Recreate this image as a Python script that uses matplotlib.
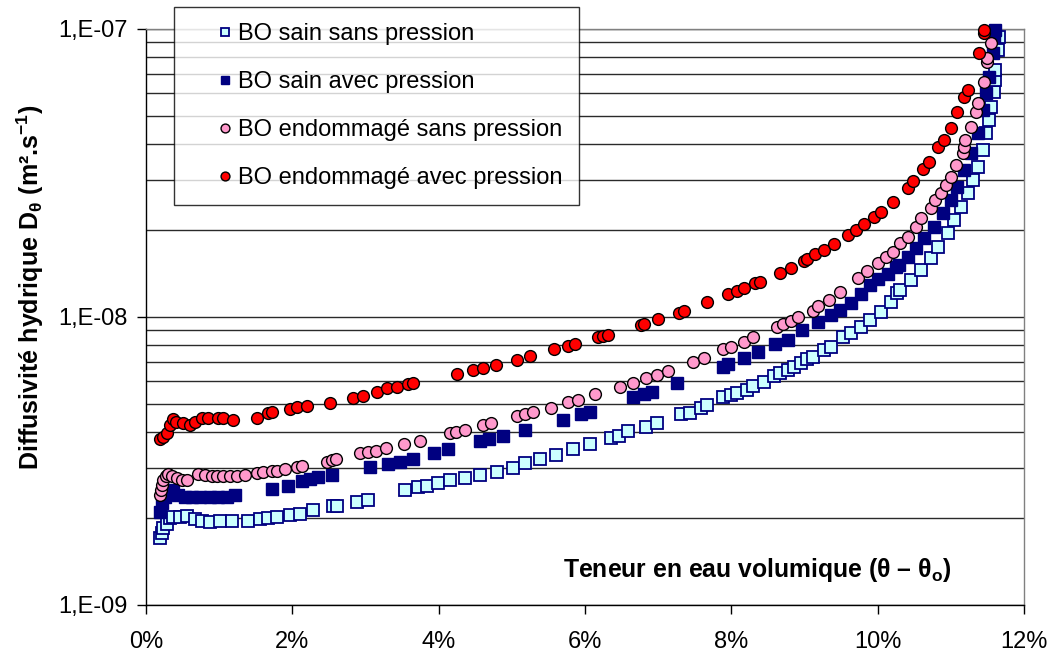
import numpy as np
import matplotlib
matplotlib.use('Agg')
import matplotlib.pyplot as plt
from matplotlib.ticker import FixedLocator, FixedFormatter, NullLocator

# données : teneur en eau (%) et diffusivité (x1e-9 m2/s)
sain_sans_x = [0.19, 0.22, 0.23, 0.29, 0.33, 0.37, 0.47, 0.56, 0.67, 0.77, 0.88, 1.01, 1.18, 1.40, 1.56,
               1.67, 1.79, 1.97, 2.11, 2.28, 2.56, 2.61, 2.89, 3.04, 3.54, 3.72, 3.84, 3.99, 4.16, 4.36,
               4.57, 4.80, 5.01, 5.18, 5.39, 5.60, 5.83, 6.07, 6.35, 6.46, 6.59, 6.83, 6.99, 7.31, 7.44,
               7.58, 7.67, 7.89, 7.99, 8.08, 8.22, 8.30, 8.44, 8.58, 8.67, 8.77, 8.85, 8.95, 9.04, 9.12,
               9.26, 9.36, 9.53, 9.63, 9.77, 9.90, 10.04, 10.18, 10.27, 10.31, 10.45, 10.59, 10.73, 10.83,
               10.96, 11.04, 11.14, 11.23, 11.30, 11.37, 11.44, 11.48, 11.52, 11.55, 11.59, 11.60, 11.61,
               11.64, 11.66]
sain_sans_d = [1.71, 1.78, 1.85, 1.91, 2.00, 2.02, 2.02, 2.04, 1.99, 1.96, 1.94, 1.96, 1.96, 1.96, 1.99,
               2.00, 2.02, 2.05, 2.07, 2.14, 2.21, 2.21, 2.28, 2.32, 2.51, 2.57, 2.59, 2.65, 2.72, 2.76,
               2.83, 2.90, 2.99, 3.11, 3.21, 3.32, 3.48, 3.62, 3.80, 3.86, 4.02, 4.15, 4.28, 4.60, 4.64,
               4.83, 4.95, 5.28, 5.36, 5.45, 5.58, 5.76, 5.95, 6.24, 6.39, 6.55, 6.70, 6.92, 7.15, 7.26,
               7.68, 7.87, 8.52, 8.80, 9.23, 9.77, 10.4, 11.3, 12.1, 12.4, 13.4, 14.6, 16.0, 17.5,
               19.6, 21.7, 24.1, 27.0, 29.9, 33.2, 38.0, 43.5, 48.3, 53.6, 60.4, 66.5, 72.1,
               84.5, 93.8]

sain_avec_x = [0.19, 0.22, 0.26, 0.30, 0.37, 0.44, 0.53, 0.63, 0.74, 0.88, 0.98, 1.11, 1.22, 1.72, 1.94,
               2.13, 2.24, 2.35, 2.54, 3.06, 3.31, 3.47, 3.65, 3.93, 4.13, 4.57, 4.69, 4.88, 5.18, 5.70,
               5.94, 6.07, 6.66, 6.80, 6.92, 7.26, 7.88, 7.95, 8.17, 8.36, 8.60, 8.77, 8.97, 9.19, 9.36,
               9.49, 9.63, 9.77, 9.90, 10.01, 10.14, 10.25, 10.29, 10.41, 10.52, 10.63, 10.77, 10.89,
               11.00, 11.09, 11.18, 11.27, 11.37, 11.44, 11.48, 11.52, 11.57, 11.59, 11.60]
sain_avec_d = [2.10, 2.26, 2.37, 2.47, 2.51, 2.41, 2.37, 2.37, 2.37, 2.37, 2.37, 2.37, 2.41, 2.53, 2.59,
               2.70, 2.74, 2.78, 2.83, 3.01, 3.09, 3.14, 3.21, 3.37, 3.48, 3.71, 3.77, 3.86, 4.05, 4.39,
               4.60, 4.68, 5.28, 5.40, 5.49, 5.90, 6.70, 6.87, 7.20, 7.56, 8.06, 8.32, 9.01, 9.61, 10.2,
               10.6, 11.2, 12.0, 12.9, 13.6, 14.1, 14.9, 15.2, 16.2, 17.4, 18.8, 20.5, 23.0,
               25.5, 28.3, 32.4, 37.1, 43.5, 52.3, 60.0, 68.1, 82.5, 93.8, 99.0]

endo_sans_x = [0.19, 0.21, 0.22, 0.23, 0.27, 0.30, 0.36, 0.42, 0.49, 0.56, 0.71, 0.81, 0.90, 0.97, 1.05,
               1.15, 1.24, 1.35, 1.52, 1.60, 1.72, 1.79, 1.90, 2.07, 2.13, 2.48, 2.54, 2.59, 2.93, 3.04,
               3.15, 3.28, 3.52, 3.75, 4.16, 4.24, 4.36, 4.60, 4.72, 5.07, 5.18, 5.29, 5.53, 5.77, 5.91,
               6.13, 6.48, 6.66, 6.83, 6.99, 7.14, 7.48, 7.62, 7.89, 7.99, 8.17, 8.30, 8.63, 8.71, 8.81,
               8.91, 9.11, 9.18, 9.33, 9.49, 9.73, 9.86, 10.00, 10.11, 10.21, 10.31, 10.41, 10.52, 10.59,
               10.73, 10.79, 10.86, 10.93, 11.00, 11.07, 11.16, 11.18, 11.20, 11.27, 11.34, 11.37, 11.45,
               11.49, 11.50, 11.55]
endo_sans_d = [2.41, 2.51, 2.61, 2.72, 2.80, 2.85, 2.80, 2.76, 2.72, 2.72, 2.85, 2.83, 2.80, 2.80, 2.80,
               2.80, 2.80, 2.83, 2.87, 2.90, 2.92, 2.92, 2.97, 3.01, 3.04, 3.14, 3.19, 3.21, 3.37, 3.40,
               3.42, 3.51, 3.62, 3.71, 3.96, 3.99, 4.05, 4.22, 4.28, 4.53, 4.60, 4.68, 4.83, 5.07, 5.15,
               5.40, 5.71, 5.90, 6.14, 6.29, 6.49, 6.98, 7.20, 7.74, 7.87, 8.19, 8.52, 9.23, 9.46, 9.68,
               10.0, 10.5, 10.9, 11.5, 12.2, 13.7, 14.4, 15.4, 16.2, 16.8, 18.1, 19.0, 20.5, 22.1,
               23.9, 25.5, 27.0, 28.7, 30.6, 33.7, 37.1, 38.9, 41.2, 45.7, 51.5, 55.3, 65.5,
               76.8, 79.3, 89.4]

endo_avec_x = [0.19, 0.23, 0.29, 0.33, 0.37, 0.41, 0.51, 0.60, 0.67, 0.77, 0.85, 0.98, 1.05, 1.19, 1.52,
               1.67, 1.72, 1.97, 2.07, 2.20, 2.52, 2.83, 2.97, 3.16, 3.30, 3.43, 3.58, 3.65, 4.25, 4.47,
               4.61, 4.79, 5.07, 5.25, 5.57, 5.77, 5.87, 6.18, 6.25, 6.32, 6.76, 6.80, 7.00, 7.28, 7.35,
               7.67, 7.96, 8.08, 8.17, 8.33, 8.39, 8.66, 8.82, 8.99, 9.04, 9.15, 9.26, 9.40, 9.59, 9.70,
               9.81, 9.95, 10.04, 10.21, 10.41, 10.48, 10.62, 10.70, 10.83, 10.90, 11.00, 11.09, 11.18,
               11.23, 11.38, 11.45, 11.45]
endo_avec_d = [3.77, 3.83, 3.96, 4.22, 4.42, 4.32, 4.28, 4.22, 4.32, 4.46, 4.46, 4.46, 4.46, 4.39, 4.46,
               4.64, 4.68, 4.79, 4.87, 4.91, 5.03, 5.23, 5.32, 5.49, 5.67, 5.71, 5.85, 5.90, 6.34, 6.55,
               6.65, 6.81, 7.09, 7.32, 7.74, 7.93, 8.06, 8.52, 8.59, 8.66, 9.38, 9.46, 9.84, 10.3, 10.5,
               11.3, 12.0, 12.3, 12.6, 13.1, 13.2, 14.2, 14.8, 15.6, 15.9, 16.5, 17.1, 17.9, 19.3, 20.0,
               21.0, 22.2, 23.2, 25.1, 28.0, 29.7, 32.6, 34.5, 38.9, 41.2, 45.3, 51.5, 58.1,
               61.4, 82.5, 96.8, 99.2]

x_ticks = [0, 2, 4, 6, 8, 10, 12]
x_labels = ['0%', '2%', '4%', '6%', '8%', '10%', '12%']
y_ticks = [1e-9, 1e-8, 1e-7]
y_labels = ['1,E-09', '1,E-08', '1,E-07']
y_grid = [k * 10.0 ** e for e in (-9, -8) for k in range(1, 10)] + [1e-7]

plt.rcParams['font.family'] = ['Liberation Sans', 'DejaVu Sans']
plt.rcParams['mathtext.fontset'] = 'custom'
plt.rcParams['mathtext.rm'] = 'Liberation Sans'
plt.rcParams['mathtext.it'] = 'Liberation Sans'
plt.rcParams['mathtext.bf'] = 'Liberation Sans:bold'

fig = plt.figure(figsize=(10.54, 6.54), dpi=100)
ax = fig.add_axes([146 / 1054, 1 - 605 / 654, 878 / 1054, 576 / 654])

# grille horizontale (lignes principales et secondaires)
for g in y_grid:
    ax.axhline(g, color='#2a2a2a', lw=1.0, zorder=1)

series = [
    (sain_sans_x, sain_sans_d, 'BO sain sans pression',
     dict(marker='s', ms=8, mfc='#CCFFFF', mec='#000080', mew=1.3)),
    (sain_avec_x, sain_avec_d, 'BO sain avec pression',
     dict(marker='s', ms=8, mfc='#000080', mec='#000080', mew=1.0)),
    (endo_sans_x, endo_sans_d, 'BO endommagé sans pression',
     dict(marker='o', ms=8.5, mfc='#FF99CC', mec='black', mew=1.0)),
    (endo_avec_x, endo_avec_d, 'BO endommagé avec pression',
     dict(marker='o', ms=8.5, mfc='#FF0000', mec='black', mew=1.0)),
]
for i, (xs, ds, lab, st) in enumerate(series):
    ax.plot(xs, np.array(ds) * 1e-9, ls='none', label=lab, clip_on=False,
            zorder=3 + i, **st)

ax.set_yscale('log')
ax.set_xlim(0, 12)
ax.set_ylim(1e-9, 1e-7)
ax.yaxis.set_major_locator(FixedLocator(y_ticks))
ax.yaxis.set_major_formatter(FixedFormatter(y_labels))
ax.yaxis.set_minor_locator(NullLocator())
ax.xaxis.set_major_locator(FixedLocator(x_ticks))
ax.xaxis.set_major_formatter(FixedFormatter(x_labels))
ax.tick_params(axis='both', direction='out', length=6.5, width=1.0,
               labelsize=17, colors='black')
ax.tick_params(axis='y', pad=7)
ax.tick_params(axis='x', pad=12)

for s in ['left', 'bottom']:
    ax.spines[s].set_color('black')
    ax.spines[s].set_linewidth(1.0)
for s in ['right', 'top']:
    ax.spines[s].set_color('#808080')
    ax.spines[s].set_linewidth(1.0)

ax.text(0.475, 0.061, r'Teneur en eau volumique (θ – θ$_\mathbf{o}$)', transform=ax.transAxes,
        ha='left', va='center', fontsize=17.8, fontweight='bold')
fig.text(30 / 1054, 1 - 287 / 654, r'Diffusivité hydrique D$_\mathbf{θ}$ (m².s$^\mathbf{-1}$)',
         rotation=90, ha='center', va='center', fontsize=18, fontweight='bold')

leg = fig.legend(loc='upper left', bbox_to_anchor=(174 / 1054, 1 - 7 / 654),
                 frameon=True, fancybox=False, fontsize=17, markerscale=0.75,
                 handlelength=3.0, handletextpad=-0.95, labelspacing=1.1,
                 borderpad=0.68, borderaxespad=0)
leg.get_frame().set_edgecolor('black')
leg.get_frame().set_linewidth(1.0)
leg.set_zorder(10)

fig.savefig('out.png', dpi=100, facecolor='white')
